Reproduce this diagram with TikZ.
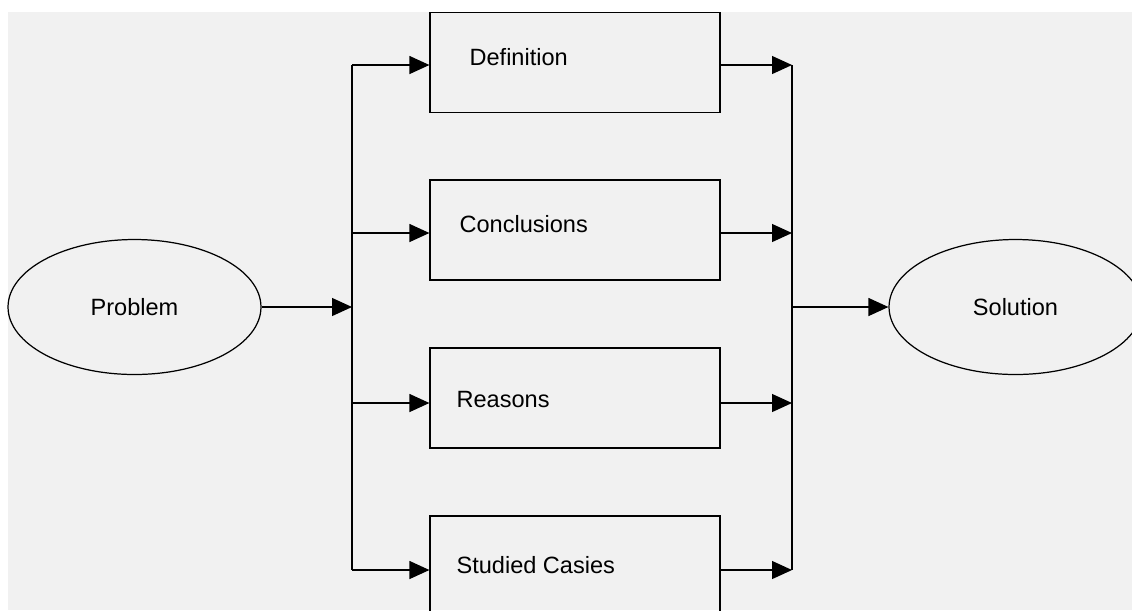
\documentclass[tikz,border=0pt]{standalone}
\usepackage{fontspec}
\setmainfont{Liberation Sans}
\usetikzlibrary{shapes.geometric, arrows.meta}
\definecolor{panel}{HTML}{F1F1F1}

\begin{document}
\begin{tikzpicture}[x=0.02cm, y=-0.02cm, line width=0.7pt,
    >={Triangle[length=0.4cm, width=0.36cm]},
    every node/.style={font=\fontsize{13.4}{16}\selectfont},
    box/.style={draw, minimum width=5.8cm, minimum height=2cm, inner sep=0},
    oval/.style={draw, ellipse, minimum width=5.06cm, minimum height=2.7cm, inner sep=0},
    lbl/.style={anchor=base west, inner sep=0}]
    \useasboundingbox (0, 0) rectangle (1132, 610);
    \fill [panel] (8, 12) rectangle (1132, 610);

    \node [oval] (prob) at (134.5, 307) {Problem};
    \node [oval] (sol) at (1015.5, 307) {Solution};

    \node [box] (def) at (575, 62.7) {};
    \node [box] (conc) at (575, 230) {};
    \node [box] (reas) at (575, 398) {};
    \node [box] (stud) at (575, 566) {};
    \node [lbl] (tdef) at (469, 65.7) {Definition};
    \node [lbl] (tconc) at (459, 232.7) {Conclusions};
    \node [lbl] (treas) at (456, 407.3) {Reasons};
    \node [lbl] (tstud) at (456, 573.3) {Studied Casies};

    \coordinate (l1) at (352, 65);
    \coordinate (l2) at (352, 233);
    \coordinate (l3) at (352, 403);
    \coordinate (l4) at (352, 570);
    \coordinate (lm) at (352, 307);
    \coordinate (r1) at (792, 65);
    \coordinate (r2) at (792, 233);
    \coordinate (r3) at (792, 403);
    \coordinate (r4) at (792, 570);
    \coordinate (rm) at (792, 307);

    \draw (l1) -- (l4);
    \draw (r1) -- (r4);
    \draw [->] (prob) -- (lm);
    \draw [->] (rm) -- (sol);

    \draw [->] (l1) -- (def.west |- l1);
    \draw [->] (l2) -- (conc.west |- l2);
    \draw [->] (l3) -- (reas.west |- l3);
    \draw [->] (l4) -- (stud.west |- l4);
    \draw [->] (def.east |- r1) -- (r1);
    \draw [->] (conc.east |- r2) -- (r2);
    \draw [->] (reas.east |- r3) -- (r3);
    \draw [->] (stud.east |- r4) -- (r4);
\end{tikzpicture}
\end{document}
